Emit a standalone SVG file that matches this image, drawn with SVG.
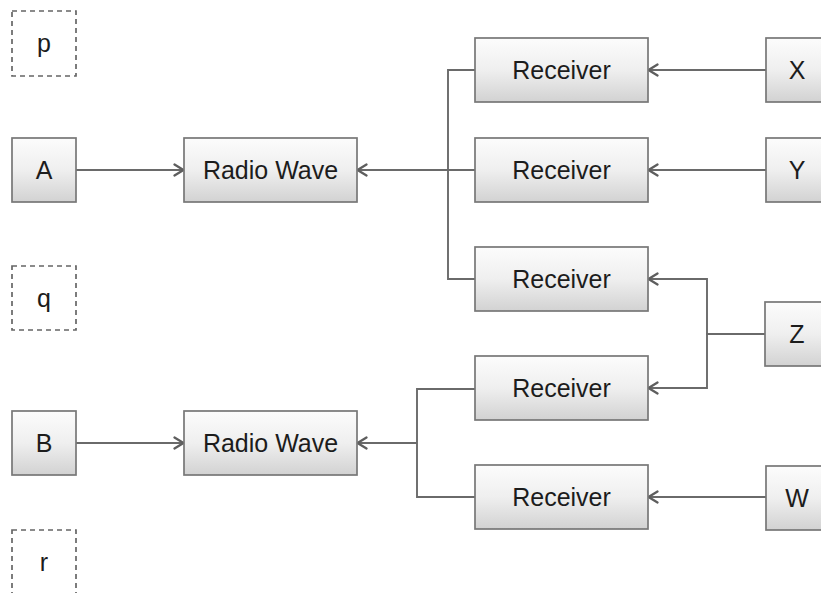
<svg xmlns="http://www.w3.org/2000/svg" width="821" height="593" viewBox="0 0 821 593">
  <defs>
    <linearGradient id="boxFill" x1="0" y1="0" x2="0" y2="1">
      <stop offset="0" stop-color="#fcfcfc"/>
      <stop offset="0.5" stop-color="#efefef"/>
      <stop offset="1" stop-color="#d2d2d2"/>
    </linearGradient>
    <marker id="arrow" viewBox="0 0 12 14" refX="11" refY="7" markerWidth="12" markerHeight="14" markerUnits="userSpaceOnUse" orient="auto">
      <path d="M1.5,1.5 L10.5,7 L1.5,12.5" fill="none" stroke="#5e5e5e" stroke-width="2.3" stroke-linecap="round" stroke-linejoin="round"/>
    </marker>
  </defs>
  <style>
    .box { fill: url(#boxFill); stroke: #777; stroke-width: 1.7; }
    .dash { fill: #ffffff; stroke: #666; stroke-width: 1.7; stroke-dasharray: 5 4; }
    .lbl { font-family: "Liberation Sans", Arial, sans-serif; font-size: 25px; fill: #1c1c1c; text-anchor: middle; }
    .wire { fill: none; stroke: #6a6a6a; stroke-width: 1.9; }
  </style>
  <rect width="821" height="593" fill="#ffffff"/>

  <g id="connectors">
    <path class="wire" d="M76,170 H184" marker-end="url(#arrow)"/>
    <path class="wire" d="M76,443 H184" marker-end="url(#arrow)"/>
    <path class="wire" d="M475,70 H448 V279 H475"/>
    <path class="wire" d="M475,170 H357" marker-end="url(#arrow)"/>
    <path class="wire" d="M475,389 H417 V497 H475"/>
    <path class="wire" d="M417,443 H357" stroke-width="2.4" marker-end="url(#arrow)"/>
    <path class="wire" d="M766,70 H648" marker-end="url(#arrow)"/>
    <path class="wire" d="M766,170 H648" marker-end="url(#arrow)"/>
    <path class="wire" d="M765,334 H707 V279 H648" marker-end="url(#arrow)"/>
    <path class="wire" d="M765,334 H707 V388 H648" marker-end="url(#arrow)"/>
    <path class="wire" d="M766,497 H648" marker-end="url(#arrow)"/>
  </g>

  <g id="p"><rect class="dash" x="12" y="11" width="64" height="65"/><text class="lbl" x="44" y="52">p</text></g>
  <g id="A"><rect class="box" x="12" y="138" width="64" height="64"/><text class="lbl" x="44" y="179">A</text></g>
  <g id="q"><rect class="dash" x="12" y="266" width="64" height="64"/><text class="lbl" x="44" y="307">q</text></g>
  <g id="B"><rect class="box" x="12" y="411" width="64" height="64"/><text class="lbl" x="44" y="452">B</text></g>
  <g id="r"><rect class="dash" x="12" y="530" width="64" height="64"/><text class="lbl" x="44" y="571">r</text></g>

  <g id="radio1"><rect class="box" x="184" y="138" width="173" height="64"/><text class="lbl" x="270.5" y="179">Radio Wave</text></g>
  <g id="radio2"><rect class="box" x="184" y="411" width="173" height="64"/><text class="lbl" x="270.5" y="452">Radio Wave</text></g>

  <g id="receiver1"><rect class="box" x="475" y="38" width="173" height="64"/><text class="lbl" x="561.5" y="79">Receiver</text></g>
  <g id="receiver2"><rect class="box" x="475" y="138" width="173" height="64"/><text class="lbl" x="561.5" y="179">Receiver</text></g>
  <g id="receiver3"><rect class="box" x="475" y="247" width="173" height="64"/><text class="lbl" x="561.5" y="288">Receiver</text></g>
  <g id="receiver4"><rect class="box" x="475" y="356" width="173" height="64"/><text class="lbl" x="561.5" y="397">Receiver</text></g>
  <g id="receiver5"><rect class="box" x="475" y="465" width="173" height="64"/><text class="lbl" x="561.5" y="506">Receiver</text></g>

  <g id="X"><rect class="box" x="766" y="38" width="64" height="64"/><text class="lbl" x="797" y="79">X</text></g>
  <g id="Y"><rect class="box" x="766" y="138" width="64" height="64"/><text class="lbl" x="797" y="179">Y</text></g>
  <g id="Z"><rect class="box" x="765" y="302" width="64" height="64"/><text class="lbl" x="797" y="343">Z</text></g>
  <g id="W"><rect class="box" x="766" y="466" width="64" height="64"/><text class="lbl" x="797" y="507">W</text></g>
</svg>
